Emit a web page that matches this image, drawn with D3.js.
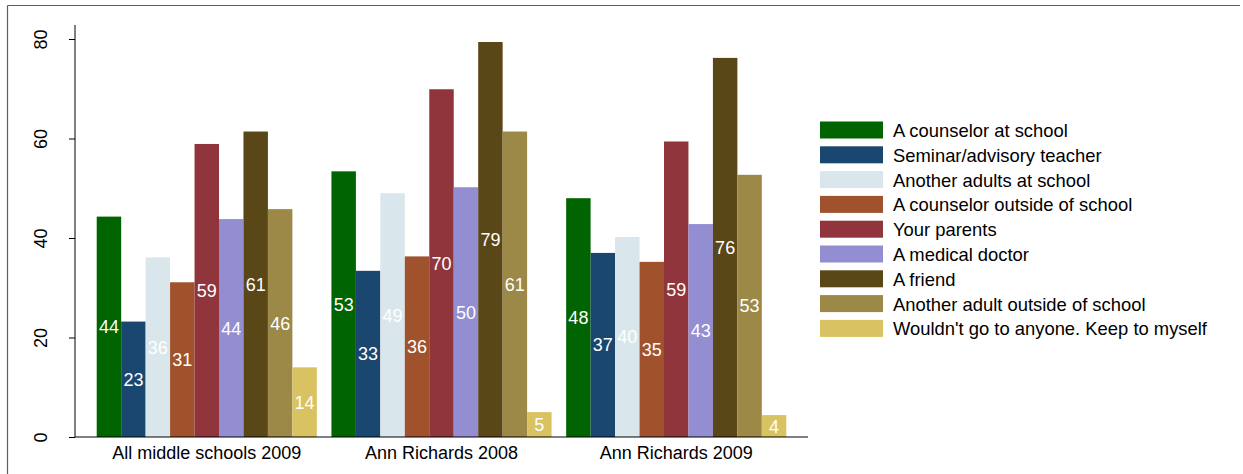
<!DOCTYPE html>
<html>
<head>
<meta charset="utf-8">
<script src="https://cdn.jsdelivr.net/npm/d3@7"></script>
<style>
  html, body { margin: 0; padding: 0; background: #fff; }
  svg { display: block; font-family: "Liberation Sans", Arial, sans-serif; }
</style>
</head>
<body>
<svg id="chart" width="1243" height="474"></svg>
<script>
// ---- data ----
const groups = ["All middle schools 2009", "Ann Richards 2008", "Ann Richards 2009"];
const seriesNames = [
  "A counselor at school",
  "Seminar/advisory teacher",
  "Another adults at school",
  "A counselor outside of school",
  "Your parents",
  "A medical doctor",
  "A friend",
  "Another adult outside of school",
  "Wouldn't go to anyone. Keep to myself"
];
const seriesColors = ["#006400", "#1A476F", "#D9E6EB", "#A0522D", "#90353B", "#938DD2", "#5A4718", "#9C8847", "#D9C262"];
const valuesAllMiddle2009 = [44.3, 23.2, 36.1, 31.1, 58.9, 43.8, 61.4, 45.8, 14.0];
const valuesAnnRichards2008 = [53.4, 33.4, 49.0, 36.3, 69.9, 50.2, 79.4, 61.4, 5.0];
const valuesAnnRichards2009 = [48.0, 37.0, 40.2, 35.2, 59.4, 42.8, 76.2, 52.7, 4.4];
const yTicks = [0, 20, 40, 60, 80];

const groupValues = [valuesAllMiddle2009, valuesAnnRichards2008, valuesAnnRichards2009];

// ---- layout ----
const svg = d3.select("#chart");
const plotLeft = 75, plotRight = 808, plotTop = 39, plotBottom = 437;

const y = d3.scaleLinear().domain([0, 80]).range([plotBottom, plotTop]);
const x0 = d3.scaleBand().domain(groups).range([plotLeft, plotRight])
  .paddingInner(0.0622).paddingOuter(0.0925);
const x1 = d3.scaleBand().domain(seriesNames).range([0, x0.bandwidth()]).padding(0);
const color = d3.scaleOrdinal().domain(seriesNames).range(seriesColors);

// frame
svg.append("line").attr("x1", 7.5).attr("x2", 1240).attr("y1", 5.5).attr("y2", 5.5)
  .attr("stroke", "#5a5f6a").attr("stroke-width", 1.2);
svg.append("line").attr("x1", 7.5).attr("x2", 7.5).attr("y1", 5.5).attr("y2", 474)
  .attr("stroke", "#5a5f6a").attr("stroke-width", 1.2);

// bars
const g = svg.append("g");
groups.forEach((grp, gi) => {
  const data = seriesNames.map((s, si) => ({ s, v: groupValues[gi][si] }));
  const gg = g.append("g").attr("transform", `translate(${x0(grp)},0)`);
  gg.selectAll("rect").data(data).join("rect")
    .attr("x", d => x1(d.s))
    .attr("y", d => y(d.v))
    .attr("width", x1.bandwidth())
    .attr("height", d => y(0) - y(d.v))
    .attr("fill", d => color(d.s));
  gg.selectAll("text").data(data).join("text")
    .attr("x", d => x1(d.s) + x1.bandwidth() / 2)
    .attr("y", d => (y(d.v) + y(0)) / 2)
    .attr("dy", "0.36em")
    .attr("text-anchor", "middle")
    .attr("fill", "#fff")
    .attr("font-size", "18px")
    .text(d => Math.round(d.v));
});

// y axis
const yAxis = d3.axisLeft(y).tickValues(yTicks).tickSize(6).tickPadding(0).tickFormat(d3.format("d"));
const ya = svg.append("g").attr("transform", `translate(${plotLeft},0)`).call(yAxis);
ya.select(".domain").attr("d", `M0,${plotBottom}V${plotTop - 14}`).attr("stroke", "#000");
ya.selectAll(".tick line").attr("stroke", "#000");
ya.selectAll(".tick text")
  .attr("font-size", "18px")
  .attr("fill", "#000")
  .attr("x", 0).attr("y", 0)
  .attr("dy", 0)
  .attr("text-anchor", "middle")
  .attr("transform", "translate(-28,0) rotate(-90)");

// x axis
const xAxis = d3.axisBottom(x0).tickSize(0).tickPadding(0);
const xa = svg.append("g").attr("transform", `translate(0,${plotBottom})`).call(xAxis);
xa.select(".domain").attr("d", `M${plotLeft},0H${plotRight}`).attr("stroke", "#000");
xa.selectAll(".tick text").attr("font-size", "18px").attr("fill", "#000")
  .attr("y", 22).attr("dy", 0);

// legend
const legend = svg.append("g").attr("transform", "translate(820,121.5)");
const rowH = 24.8;
seriesNames.forEach((s, i) => {
  const row = legend.append("g").attr("transform", `translate(0,${i * rowH})`);
  row.append("rect").attr("width", 63).attr("height", 17).attr("fill", color(s));
  row.append("text").attr("x", 73).attr("y", 8.8).attr("dy", "0.36em")
    .attr("font-size", "18.4px").attr("fill", "#000").text(s);
});
</script>
</body>
</html>
